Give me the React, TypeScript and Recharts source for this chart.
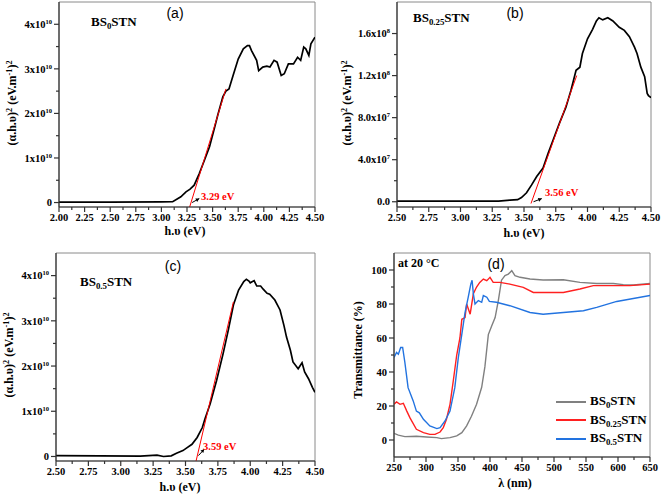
import React from "react";
import {
  LineChart,
  Line,
  XAxis,
  YAxis,
  ReferenceArea,
  ReferenceLine,
  Legend,
} from "recharts";

const SERIF = '"Liberation Serif", "Times New Roman", serif';
const SANS = '"Liberation Sans", Arial, sans-serif';

// (a) BS0STN, (α.h.υ)² in units of 1e10
const energyA = [2.0, 2.5, 3.0, 3.11, 3.19, 3.24, 3.28, 3.32, 3.37, 3.42, 3.47, 3.52, 3.55, 3.6, 3.63, 3.66, 3.7, 3.75, 3.8, 3.84, 3.86, 3.88, 3.93, 3.95, 3.99, 4.03, 4.06, 4.1, 4.13, 4.17, 4.2, 4.24, 4.29, 4.33, 4.36, 4.39, 4.41, 4.44, 4.46, 4.5];
const tauqA = [0.01, 0.01, 0.015, 0.02, 0.13, 0.24, 0.3, 0.39, 0.65, 0.95, 1.25, 1.69, 1.96, 2.37, 2.5, 2.55, 2.85, 3.22, 3.45, 3.52, 3.52, 3.41, 3.19, 2.96, 3.04, 3.06, 3.04, 3.19, 3.15, 2.85, 2.89, 3.11, 3.11, 3.26, 3.19, 3.49, 3.45, 3.3, 3.56, 3.71];
const fitEnergyA = [3.26, 3.63];
const fitTauqA = [-0.22, 2.55];

// (b) BS0.25STN, units of 1e8
const energyB = [2.5, 3.0, 3.3, 3.39, 3.45, 3.48, 3.52, 3.56, 3.6, 3.65, 3.69, 3.73, 3.78, 3.83, 3.87, 3.91, 3.94, 3.96, 4.0, 4.04, 4.07, 4.09, 4.12, 4.16, 4.2, 4.25, 4.29, 4.33, 4.37, 4.39, 4.42, 4.45, 4.47, 4.48, 4.5];
const tauqB = [0.005, 0.005, 0.006, 0.016, 0.02, 0.04, 0.085, 0.16, 0.24, 0.32, 0.46, 0.59, 0.75, 0.9, 1.06, 1.25, 1.28, 1.41, 1.55, 1.64, 1.72, 1.75, 1.73, 1.75, 1.72, 1.66, 1.63, 1.57, 1.47, 1.41, 1.28, 1.19, 1.03, 1.01, 0.99];
const fitEnergyB = [3.555, 3.915];
const fitTauqB = [-0.017, 1.2];

// (c) BS0.5STN, units of 1e10
const energyC = [2.5, 2.84, 3.15, 3.28, 3.33, 3.39, 3.43, 3.48, 3.51, 3.55, 3.59, 3.63, 3.65, 3.69, 3.74, 3.79, 3.83, 3.87, 3.91, 3.95, 3.97, 3.99, 4.0, 4.03, 4.05, 4.08, 4.1, 4.13, 4.15, 4.19, 4.23, 4.26, 4.28, 4.31, 4.33, 4.37, 4.4, 4.42, 4.45, 4.48, 4.5];
const tauqC = [0.02, 0.015, 0.007, 0.03, 0.0, 0.015, 0.07, 0.13, 0.19, 0.27, 0.42, 0.64, 0.83, 1.16, 1.68, 2.27, 2.79, 3.35, 3.68, 3.87, 3.92, 3.88, 3.84, 3.89, 3.77, 3.77, 3.7, 3.61, 3.59, 3.46, 3.24, 2.9, 2.64, 2.35, 2.09, 1.94, 2.07, 1.87, 1.72, 1.53, 1.42];
const fitEnergyC = [3.58, 3.87];
const fitTauqC = [-0.12, 3.42];

// (d) transmittance (%)
const samples = ["0", "0.25", "0.5"];
const colors = ["#808080", "#ff2020", "#2273e0"];
const waveS0 = [250, 256.8, 267, 285, 301, 317, 324, 337.5, 348, 356, 363.5, 371, 379, 387, 392, 397.4, 402.6, 408, 413, 418, 423.4, 428.6, 434, 439, 447, 462.5, 483, 514.6, 540.6, 566.7, 592.7, 608.3, 624, 650];
const transS0 = [3.9, 2.9, 2.0, 2.2, 1.8, 1.4, 0.8, 1.4, 2.4, 4.3, 8.3, 14, 21, 31, 43, 62, 67, 72, 82, 94, 96.7, 97.6, 99.6, 96.7, 95.7, 94.7, 94.1, 94.3, 92.7, 92.1, 92.1, 91.4, 91.2, 92.1];
const waveS25 = [250, 254, 259.4, 264.6, 270, 275, 285, 296, 306, 314, 322, 327, 332, 337.5, 342.7, 348, 353, 356, 361, 363.5, 369, 374, 379, 384, 389.6, 395, 400, 405, 415.6, 431, 452, 467.7, 493.7, 514.6, 540.6, 561.4, 592.7, 618.7, 650];
const transS25 = [21, 22.4, 21, 21.6, 17, 13, 6.3, 4.3, 3.3, 3.3, 4.7, 7.3, 12.2, 21, 35, 50, 60, 71, 72, 80, 74, 86, 90, 92.7, 94.7, 93.7, 95.7, 92.7, 92.7, 91.7, 89.8, 86.8, 86.8, 86.8, 88.8, 90.8, 90.8, 90.8, 91.7];
const waveS5 = [250, 254, 256.8, 260.4, 263.5, 267, 272, 280, 285, 289.6, 296, 306, 317, 322, 329.7, 337.5, 345, 350.5, 356, 361, 366, 370, 372, 374, 376.6, 381.8, 387, 389.6, 395, 399, 410, 431, 462.5, 483, 514.6, 546, 566.7, 598, 650];
const transS5 = [48.5, 51.5, 50.5, 54.4, 54.4, 45.6, 30.8, 23, 17, 16, 12.2, 8.3, 6.7, 7.3, 11.2, 17, 30.8, 48.5, 62.3, 75, 84, 91.7, 94, 86, 80, 82, 81, 85, 84, 81.5, 81, 79, 75, 74, 75, 76, 78, 81.5, 85];

const energyTicksAB = [2.0, 2.25, 2.5, 2.75, 3.0, 3.25, 3.5, 3.75, 4.0, 4.25, 4.5];
const energyTicksBC = [2.5, 2.75, 3.0, 3.25, 3.5, 3.75, 4.0, 4.25, 4.5];
const tauqTicksAC = [0, 1e10, 2e10, 3e10, 4e10];
const tauqTicksB = [0, 4e7, 8e7, 1.2e8, 1.6e8];
const waveTicks = [250, 300, 350, 400, 450, 500, 550, 600, 650];
const transTicks = [0, 20, 40, 60, 80, 100];

const withMinors = (major: number[]) => {
  const out: number[] = [];
  major.forEach((v, i) => {
    out.push(v);
    if (i < major.length - 1) out.push((v + major[i + 1]) / 2);
  });
  return out;
};

const toPoints = (xs: number[], ys: number[], scale = 1) =>
  xs.map((x, i) => ({ x, y: ys[i] * scale }));

type Sci = { m: string; e?: string };
const fmtTenTen = (v: number): Sci => (v === 0 ? { m: "0" } : { m: `${v / 1e10}x10`, e: "10" });
const fmtB = (v: number): Sci => {
  if (v === 0) return { m: "0.0" };
  if (v < 1e8) return { m: `${(v / 1e7).toFixed(1)}x10`, e: "7" };
  return { m: `${(v / 1e8).toFixed(1)}x10`, e: "8" };
};
const fmtPlain = (v: number): Sci => ({ m: String(v) });
const fmtEnergy = (v: number) => v.toFixed(2);

const isIn = (list: number[], v: number) => list.some((t) => Math.abs(t - v) < 1e-9 * Math.max(1, Math.abs(t)));

const makeXTick = (major: number[], fmt: (v: number) => string) => (p: any) => {
  const v = p.payload.value;
  const isMajor = isIn(major, v);
  return (
    <g>
      <line x1={p.x} x2={p.x} y1={p.y} y2={p.y + (isMajor ? 5 : 3)} stroke="#333" strokeWidth={1.2} />
      {isMajor && (
        <text x={p.x} y={p.y + 14} textAnchor="middle" fontFamily={SERIF} fontWeight="bold" fontSize={10.5} fill="#000">
          {fmt(v)}
        </text>
      )}
    </g>
  );
};

const makeYTick = (major: number[], fmt: (v: number) => Sci) => (p: any) => {
  const v = p.payload.value;
  const isMajor = isIn(major, v);
  const lab = fmt(v);
  return (
    <g>
      <line x1={p.x} x2={p.x - (isMajor ? 5 : 3)} y1={p.y} y2={p.y} stroke="#333" strokeWidth={1.2} />
      {isMajor && (
        <text x={p.x - 7} y={p.y} dy="0.35em" textAnchor="end" fontFamily={SERIF} fontWeight="bold" fontSize={10.5} fill="#000">
          <tspan>{lab.m}</tspan>
          {lab.e && (
            <tspan dy={-4} fontSize={6.5}>
              {lab.e}
            </tspan>
          )}
        </text>
      )}
    </g>
  );
};

const Arrow = (p: any) => {
  const { x1, y1, x2, y2 } = p;
  const ang = Math.atan2(y2 - y1, x2 - x1);
  const h = 4;
  const a1 = ang + Math.PI - 0.5;
  const a2 = ang + Math.PI + 0.5;
  return (
    <g>
      <line x1={x1} y1={y1} x2={x2} y2={y2} stroke="#000" strokeWidth={1} />
      <path
        d={`M${x2},${y2} L${x2 + h * Math.cos(a1)},${y2 + h * Math.sin(a1)} L${x2 + h * Math.cos(a2)},${y2 + h * Math.sin(a2)} Z`}
        fill="#000"
      />
    </g>
  );
};

const Txt = ({
  x,
  y,
  children,
  size = 12,
  rotate = false,
  family = SERIF,
  bold = true,
  color = "#000",
  left = false,
}: {
  x: number;
  y: number;
  children: React.ReactNode;
  size?: number;
  rotate?: boolean;
  family?: string;
  bold?: boolean;
  color?: string;
  left?: boolean;
}) => (
  <div
    style={{
      position: "absolute",
      left: x,
      top: y,
      transform: `translate(${left ? "0" : "-50%"}, -50%)${rotate ? " rotate(-90deg)" : ""}`,
      whiteSpace: "nowrap",
      fontFamily: family,
      fontWeight: bold ? 700 : 400,
      fontSize: size,
      color,
      lineHeight: 1,
    }}
  >
    {children}
  </div>
);

const sub = (s: string) => <span style={{ fontSize: "0.68em", verticalAlign: "-0.3em" }}>{s}</span>;
const sup = (s: string) => <span style={{ fontSize: "0.68em", verticalAlign: "0.45em" }}>{s}</span>;

type TaucProps = {
  left: number;
  top: number;
  width: number;
  margin: { top: number; right: number; left: number; bottom: number };
  yWidth: number;
  xHeight: number;
  xDomain: [number, number];
  xMajor: number[];
  yDomain: [number, number];
  yMajor: number[];
  yFmt: (v: number) => Sci;
  curve: { x: number; y: number }[];
  fit: { x: number; y: number }[];
  arrow: [{ x: number; y: number }, { x: number; y: number }];
};

const TaucPanel = (p: TaucProps) => (
  <div style={{ position: "absolute", left: p.left, top: p.top }}>
    <LineChart width={p.width} height={248} margin={p.margin}>
      <ReferenceArea x1={p.xDomain[0]} x2={p.xDomain[1]} y1={p.yDomain[0]} y2={p.yDomain[1]} fill="none" stroke="#8a8a8a" strokeWidth={1} />
      <XAxis
        type="number"
        dataKey="x"
        domain={p.xDomain}
        ticks={withMinors(p.xMajor)}
        interval={0}
        allowDataOverflow
        height={p.xHeight}
        tickLine={false}
        tickSize={0}
        tickMargin={0}
        axisLine={{ stroke: "#333", strokeWidth: 1.2 }}
        tick={makeXTick(p.xMajor, fmtEnergy)}
      />
      <YAxis
        type="number"
        dataKey="y"
        domain={p.yDomain}
        ticks={withMinors(p.yMajor)}
        interval={0}
        allowDataOverflow
        width={p.yWidth}
        tickLine={false}
        tickSize={0}
        tickMargin={0}
        axisLine={{ stroke: "#333", strokeWidth: 1.2 }}
        tick={makeYTick(p.yMajor, p.yFmt)}
      />
      <Line data={p.curve} dataKey="y" stroke="#000" strokeWidth={1.7} dot={false} isAnimationActive={false} />
      <Line data={p.fit} dataKey="y" stroke="#ff0000" strokeWidth={1} dot={false} isAnimationActive={false} />
      <ReferenceLine segment={p.arrow} shape={Arrow} ifOverflow="visible" />
    </LineChart>
  </div>
);

const LegendBox = (props: any) => {
  const items = [...(props.payload || [])].sort(
    (a: any, b: any) =>
      samples.indexOf(String(a.value).slice(2, -3)) - samples.indexOf(String(b.value).slice(2, -3))
  );
  return (
    <div>
      {items.map((it: any) => {
        const name = String(it.value);
        return (
          <div key={name} style={{ display: "flex", alignItems: "center", height: 18.3 }}>
            <div style={{ width: 30, height: 2, background: it.color, marginRight: 4 }} />
            <span style={{ fontFamily: SERIF, fontWeight: 700, fontSize: 13, color: "#000", lineHeight: 1 }}>
              BS{sub(name.slice(2, -3))}STN
            </span>
          </div>
        );
      })}
    </div>
  );
};

const transSeries = [toPoints(waveS0, transS0), toPoints(waveS25, transS25), toPoints(waveS5, transS5)];

export default function App() {
  const yTitle = (
    <>
      (α.h.υ){sup("2")} (eV.m{sup("-1")}){sup("2")}
    </>
  );
  return (
    <div style={{ position: "absolute", left: 0, top: 0, width: 661, height: 496, background: "#fff" }}>
      <TaucPanel
        left={0}
        top={0}
        width={330}
        margin={{ top: 2, right: 15, left: 0, bottom: 0 }}
        yWidth={59}
        xHeight={41}
        xDomain={[2, 4.5]}
        xMajor={energyTicksAB}
        yDomain={[-1e9, 4.5e10]}
        yMajor={tauqTicksAC}
        yFmt={fmtTenTen}
        curve={toPoints(energyA, tauqA, 1e10)}
        fit={toPoints(fitEnergyA, fitTauqA, 1e10)}
        arrow={[{ x: 3.3, y: 0.0 }, { x: 3.37, y: 0.09e10 }]}
      />
      <TaucPanel
        left={330}
        top={0}
        width={331}
        margin={{ top: 2, right: 10, left: 0, bottom: 0 }}
        yWidth={67}
        xHeight={41}
        xDomain={[2.5, 4.5]}
        xMajor={energyTicksBC}
        yDomain={[-5e6, 1.9e8]}
        yMajor={tauqTicksB}
        yFmt={fmtB}
        curve={toPoints(energyB, tauqB, 1e8)}
        fit={toPoints(fitEnergyB, fitTauqB, 1e8)}
        arrow={[{ x: 3.575, y: 0 }, { x: 3.64, y: 3e6 }]}
      />
      <TaucPanel
        left={0}
        top={248}
        width={330}
        margin={{ top: 5, right: 15, left: 0, bottom: 0 }}
        yWidth={56}
        xHeight={35}
        xDomain={[2.5, 4.5]}
        xMajor={energyTicksBC}
        yDomain={[-1e9, 4.5e10]}
        yMajor={tauqTicksAC}
        yFmt={fmtTenTen}
        curve={toPoints(energyC, tauqC, 1e10)}
        fit={toPoints(fitEnergyC, fitTauqC, 1e10)}
        arrow={[{ x: 3.6, y: 0.02e10 }, { x: 3.645, y: 0.16e10 }]}
      />

      <div style={{ position: "absolute", left: 330, top: 248 }}>
        <LineChart width={331} height={248} margin={{ top: 5, right: 11, left: 0, bottom: 0 }}>
          <ReferenceArea x1={250} x2={650} y1={-10} y2={110} fill="none" stroke="#8a8a8a" strokeWidth={1} />
          <XAxis
            type="number"
            dataKey="x"
            domain={[250, 650]}
            ticks={withMinors(waveTicks)}
            interval={0}
            allowDataOverflow
            height={39}
            tickLine={false}
            tickSize={0}
            tickMargin={0}
            axisLine={{ stroke: "#333", strokeWidth: 1.2 }}
            tick={makeXTick(waveTicks, (v) => String(v))}
          />
          <YAxis
            type="number"
            dataKey="y"
            domain={[-10, 110]}
            ticks={withMinors(transTicks)}
            interval={0}
            allowDataOverflow
            width={64}
            tickLine={false}
            tickSize={0}
            tickMargin={0}
            axisLine={{ stroke: "#333", strokeWidth: 1.2 }}
            tick={makeYTick(transTicks, fmtPlain)}
          />
          {transSeries.map((d, i) => (
            <Line
              key={samples[i]}
              data={d}
              dataKey="y"
              name={`BS${samples[i]}STN`}
              stroke={colors[i]}
              strokeWidth={1.4}
              dot={false}
              isAnimationActive={false}
            />
          ))}
          <Legend
            layout="vertical"
            align="center"
            verticalAlign="middle"
            content={LegendBox}
            wrapperStyle={{ left: 226, top: 145, width: 110 }}
          />
        </LineChart>
      </div>

      {/* panel annotations */}
      <Txt x={175} y={13} size={14} family={SANS} bold={false}>(a)</Txt>
      <Txt x={515} y={13} size={14} family={SANS} bold={false}>(b)</Txt>
      <Txt x={173} y={266} size={14} family={SANS} bold={false}>(c)</Txt>
      <Txt x={496} y={264} size={14} family={SANS} bold={false}>(d)</Txt>

      <Txt x={91} y={23} size={13} left>BS{sub("0")}STN</Txt>
      <Txt x={413} y={19} size={13} left>BS{sub("0.25")}STN</Txt>
      <Txt x={80} y={283} size={13} left>BS{sub("0.5")}STN</Txt>
      <Txt x={398} y={263} size={12} left>at 20 °C</Txt>

      <Txt x={201} y={197} size={10.5} color="#ff0000" left>3.29 eV</Txt>
      <Txt x={545} y={193} size={10.5} color="#ff0000" left>3.56 eV</Txt>
      <Txt x={203} y={447} size={10.5} color="#ff0000" left>3.59 eV</Txt>

      <Txt x={12} y={103} size={12} rotate>{yTitle}</Txt>
      <Txt x={347} y={103} size={12} rotate>{yTitle}</Txt>
      <Txt x={9} y={355} size={12} rotate>{yTitle}</Txt>
      <Txt x={358} y={350} size={12} rotate>Transmittance (%)</Txt>

      <Txt x={185} y={231} size={12}>h.υ (eV)</Txt>
      <Txt x={524} y={233} size={12}>h.υ (eV)</Txt>
      <Txt x={180} y={487} size={12}>h.υ (eV)</Txt>
      <Txt x={515} y={483} size={12}>λ (nm)</Txt>
    </div>
  );
}
